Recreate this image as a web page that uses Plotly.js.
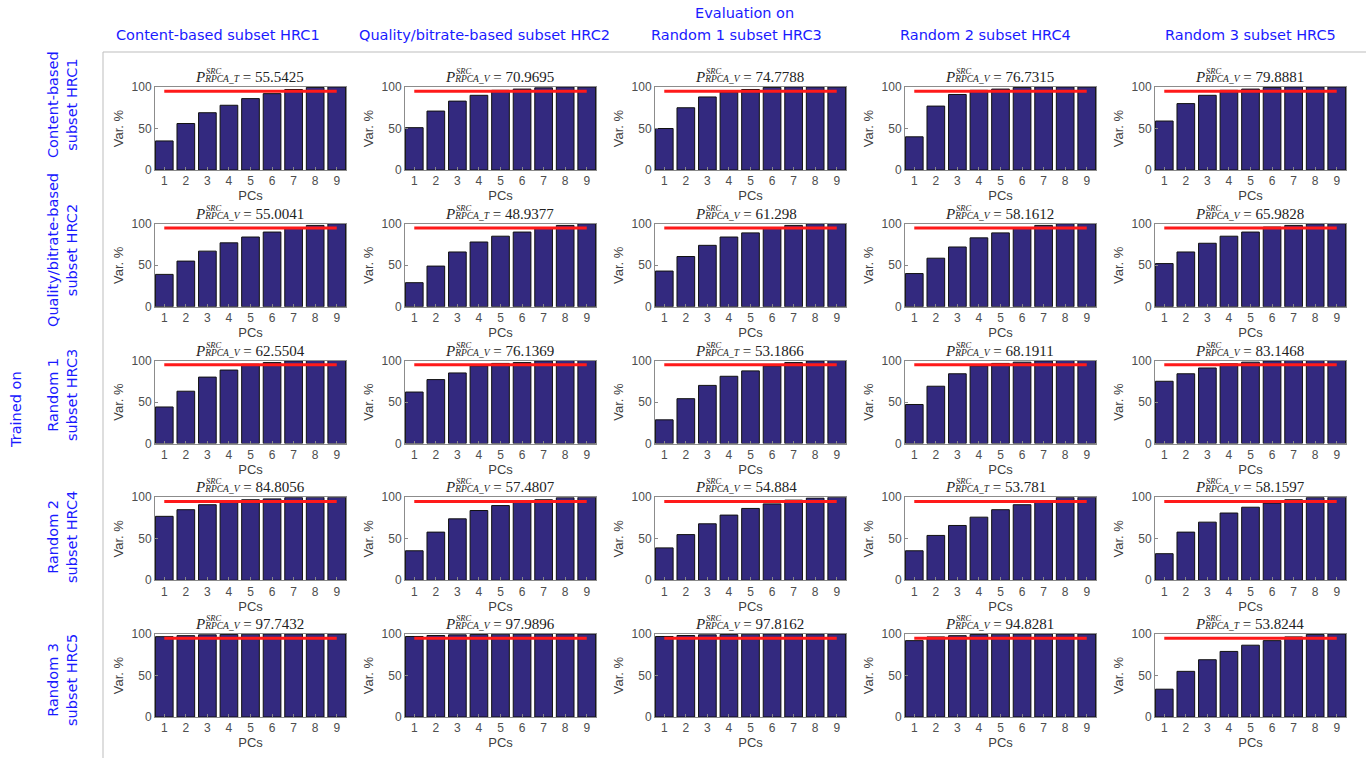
<!DOCTYPE html>
<html>
<head>
<meta charset="utf-8">
<script src="https://cdn.plot.ly/plotly-3.0.1.min.js"></script>
<style>html,body{margin:0;padding:0;background:#fff;}#chart{width:1371px;height:758px;}</style>
</head>
<body>
<div id="chart"></div>
<script>
// ---- Data ----
const pcs = [1, 2, 3, 4, 5, 6, 7, 8, 9];
const evalLabels = ["Content-based subset HRC1", "Quality/bitrate-based subset HRC2", "Random 1 subset HRC3", "Random 2 subset HRC4", "Random 3 subset HRC5"];
const trainLabels = ["Content-based<br>subset HRC1", "Quality/bitrate-based<br>subset HRC2", "Random 1<br>subset HRC3", "Random 2<br>subset HRC4", "Random 3<br>subset HRC5"];
const threshold = 95;

// cumulative explained variance (%) per panel; one array per training subset (rows), 5 evaluation subsets (columns)
const trainedHRC1 = [
  [35, 56, 69, 78, 86, 92, 97, 99.5, 100],
  [51, 71, 83, 90, 96, 97.5, 99, 100, 100],
  [50, 75, 88, 94, 97, 99.5, 100, 100, 100],
  [40, 77, 91, 96, 97.5, 99.5, 100, 100, 100],
  [59, 80, 90, 96, 97.5, 99.5, 100, 100, 100]
];
const trainedHRC2 = [
  [39, 55, 67, 77, 84, 90, 95, 98, 100],
  [29, 49, 66, 78, 85, 90, 95, 98, 100],
  [43, 60.5, 74, 84, 89, 95, 98, 100, 100],
  [40, 58.5, 72, 83, 89, 95, 98, 100, 100],
  [52, 66, 76.5, 85, 90, 96, 98, 99.8, 100]
];
const trainedHRC3 = [
  [44, 63, 80, 88.5, 95.5, 97.5, 99.5, 100, 100],
  [62, 77, 85, 93.5, 96.5, 97.5, 99.5, 100, 100],
  [28.5, 54, 70, 81, 87.5, 93.5, 97.5, 99.5, 100],
  [47, 69, 84, 93.5, 96.5, 98, 99.5, 100, 100],
  [75, 84, 91, 96, 98, 99.5, 100, 100, 100]
];
const trainedHRC4 = [
  [77, 85, 91, 95, 97, 98, 99.6, 100, 100],
  [35.5, 58, 74, 84, 90, 95, 97, 99.5, 100],
  [39, 55, 68, 78.5, 86.5, 92, 96.5, 99, 100],
  [35.5, 54, 66, 76, 85, 91, 96, 99.8, 100],
  [32, 58, 70, 81, 88, 93, 97, 99.6, 100]
];
const trainedHRC5 = [
  [96.8, 98, 99, 99.5, 99.8, 100, 100, 100, 100],
  [97, 98.2, 99, 99.5, 99.8, 100, 100, 100, 100],
  [97, 98.2, 99, 99.5, 99.8, 100, 100, 100, 100],
  [92, 96.5, 98, 99.5, 99.8, 100, 100, 100, 100],
  [33.5, 55, 69, 79, 86.5, 92, 96.5, 99.5, 100]
];
const pValues = [
  [55.5425, 70.9695, 74.7788, 76.7315, 79.8881],
  [55.0041, 48.9377, 61.298, 58.1612, 65.9828],
  [62.5504, 76.1369, 53.1866, 68.1911, 83.1468],
  [84.8056, 57.4807, 54.884, 53.781, 58.1597],
  [97.7432, 97.9896, 97.8162, 94.8281, 53.8244]
];
const pSubs = [
  ["RPCA_T", "RPCA_V", "RPCA_V", "RPCA_V", "RPCA_V"],
  ["RPCA_V", "RPCA_T", "RPCA_V", "RPCA_V", "RPCA_V"],
  ["RPCA_V", "RPCA_V", "RPCA_T", "RPCA_V", "RPCA_V"],
  ["RPCA_V", "RPCA_V", "RPCA_V", "RPCA_T", "RPCA_V"],
  ["RPCA_V", "RPCA_V", "RPCA_V", "RPCA_V", "RPCA_T"]
];
const allRows = [trainedHRC1, trainedHRC2, trainedHRC3, trainedHRC4, trainedHRC5];

// ---- Layout geometry ----
const W = 1371, H = 758;
const fx = x => x / W, fy = y => 1 - y / H;
const colLeft = [155, 405, 655, 905, 1155], plotW = 191;
const rowTop = [87, 223.75, 360.5, 497.25, 634], plotH = 83;

const BLUE = '#1a1aff';
const traces = [];
const layout = {
  width: W, height: H, margin: {l: 0, r: 0, t: 0, b: 0},
  paper_bgcolor: '#fff', plot_bgcolor: '#fff', showlegend: false,
  annotations: [], shapes: []
};
const tickFont = {family: 'Liberation Sans, Arial, sans-serif', size: 12, color: '#4d4d4d'};
const titleFont = {family: 'Liberation Sans, Arial, sans-serif', size: 13, color: '#404040'};
const serif = 'Liberation Serif, DejaVu Serif, serif';

let k = 0;
for (let r = 0; r < 5; r++) {
  for (let c = 0; c < 5; c++) {
    k++;
    const xa = k === 1 ? 'x' : 'x' + k, ya = k === 1 ? 'y' : 'y' + k;
    const xName = k === 1 ? 'xaxis' : 'xaxis' + k, yName = k === 1 ? 'yaxis' : 'yaxis' + k;
    traces.push({
      type: 'bar', x: pcs, y: allRows[r][c], xaxis: xa, yaxis: ya, width: 0.82,
      marker: {color: '#33297f', line: {color: '#111', width: 1}}, hoverinfo: 'y'
    });
    traces.push({
      type: 'scatter', mode: 'lines', x: [pcs[0], pcs[pcs.length - 1]], y: [threshold, threshold],
      xaxis: xa, yaxis: ya, line: {color: '#ff1a1a', width: 3}, hoverinfo: 'skip'
    });
    const L = colLeft[c], T = rowTop[r];
    layout[xName] = {
      domain: [fx(L), fx(L + plotW)], anchor: ya, range: [0.57, 9.43],
      tickvals: pcs, ticks: 'inside', ticklen: 3, tickcolor: '#888',
      showline: true, mirror: true, linecolor: '#8c8c8c', linewidth: 1,
      showgrid: false, zeroline: false, tickfont: tickFont, ticklabelstandoff: 0,
      title: {text: 'PCs', font: titleFont, standoff: 2}, automargin: false
    };
    layout[yName] = {
      domain: [fy(T + plotH), fy(T)], anchor: xa, range: [0, 100],
      tickvals: [0, 50, 100], ticks: 'inside', ticklen: 3, tickcolor: '#888',
      showline: true, mirror: true, linecolor: '#8c8c8c', linewidth: 1,
      showgrid: false, zeroline: false, tickfont: tickFont,
      title: {text: 'Var. %', font: titleFont, standoff: 5}, automargin: false
    };
    // panel title  P^{SRC}_{RPCA_x} = value
    const cx = L + plotW / 2;
    const left = cx - 58;
    layout.annotations.push({
      xref: 'paper', yref: 'paper', x: fx(left), y: fy(T - 10), xanchor: 'left', yanchor: 'middle',
      showarrow: false, font: {family: serif, size: 15, color: '#222'},
      text: '<i>P</i><span style="font-size:9.5px"><i>' + pSubs[r][c] + '</i></span> = ' + pValues[r][c]
    });
    layout.annotations.push({
      xref: 'paper', yref: 'paper', x: fx(left + 11), y: fy(T - 16), xanchor: 'left', yanchor: 'middle',
      showarrow: false, font: {family: serif, size: 8.5, color: '#222'}, text: '<i>SRC</i>'
    });
  }
}

// column headers
const headerX = [218, 484, 736, 985, 1250];
const hFont = {family: 'DejaVu Sans, Verdana, sans-serif', size: 14.5, color: BLUE};
evalLabels.forEach((t, i) => {
  layout.annotations.push({xref: 'paper', yref: 'paper', x: fx(headerX[i]), y: fy(35), xanchor: 'center', yanchor: 'middle',
    showarrow: false, font: hFont, text: t});
});
layout.annotations.push({xref: 'paper', yref: 'paper', x: fx(744), y: fy(13), xanchor: 'center', yanchor: 'middle',
  showarrow: false, font: hFont, text: 'Evaluation on'});

// row labels
const rowY = [105, 250, 395, 537, 680];
trainLabels.forEach((t, i) => {
  layout.annotations.push({xref: 'paper', yref: 'paper', x: fx(62), y: fy(rowY[i]), xanchor: 'center', yanchor: 'middle',
    showarrow: false, textangle: -90, font: hFont, text: t});
});
layout.annotations.push({xref: 'paper', yref: 'paper', x: fx(16), y: fy(410), xanchor: 'center', yanchor: 'middle',
  showarrow: false, textangle: -90, font: hFont, text: 'Trained on'});

// table separator lines
layout.shapes.push({type: 'line', xref: 'paper', yref: 'paper', x0: fx(103), x1: fx(1366), y0: fy(52), y1: fy(52), line: {color: '#bdbdbd', width: 1}});
layout.shapes.push({type: 'line', xref: 'paper', yref: 'paper', x0: fx(103), x1: fx(103), y0: fy(52), y1: fy(758), line: {color: '#bdbdbd', width: 1}});

Plotly.newPlot('chart', traces, layout, {displayModeBar: false, staticPlot: true});
</script>
</body>
</html>
